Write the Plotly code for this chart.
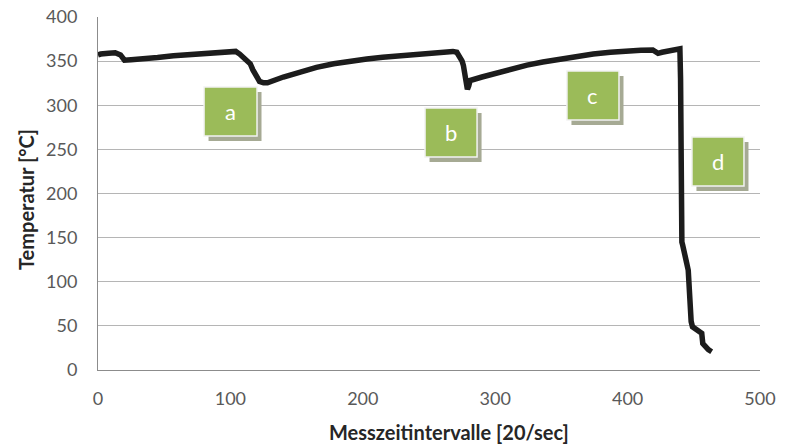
import plotly.graph_objects as go

interval = [0, 2, 8, 13, 17, 20, 25, 32, 45, 57, 70, 82, 95, 101, 104, 107, 111, 115, 117, 120, 122, 125, 128,
            140, 153, 165, 178, 190, 203, 215, 228, 240, 253, 263, 268, 271, 273, 275, 276, 277, 278, 279, 280, 281,
            290, 299, 311, 324, 336, 349, 362, 374, 387, 399, 410, 419, 421, 423, 426, 430, 434, 438, 439.5,
            440, 440, 440, 441, 441.6, 442.5, 443.4, 444.5, 445.8, 446.3, 446.6, 447, 448, 449, 451, 453.4,
            455, 456, 456.8, 459, 461, 463.5]
temperature = [357, 358, 359, 359.5, 357, 351, 351.5, 352, 354, 356, 357.5, 359.5, 361, 362, 361, 358, 352, 347, 340, 331, 327, 325.5, 325.5,
               332, 338, 343, 347, 350, 352.5, 354.5, 356.2, 357.5, 358.8, 360, 361, 360, 356, 350, 345, 338, 330, 318, 322, 328,
               332, 336, 341, 345.5, 349, 352.5, 355.5, 358, 360, 361.8, 362.3, 362.6, 360, 358.8, 360, 361.5, 362.5, 364.5, 364,
               330, 250, 157, 145, 141.6, 137, 132, 122, 113, 100, 83, 64, 55, 49, 47, 45,
               44, 41.5, 30, 26, 23, 20.7]

# Phase labels
labels = ["a", "b", "c", "d"]
label_x0 = [80.1, 247.0, 354.2, 448.6]
label_x1 = [120.1, 286.3, 393.5, 487.9]
label_y0 = [265.2, 241.4, 283.3, 208.5]
label_y1 = [320.7, 296.9, 338.8, 264.0]

x_ticks = [0, 100, 200, 300, 400, 500]
y_ticks = [0, 50, 100, 150, 200, 250, 300, 350, 400]

FONT = "Lato, 'Open Sans', sans-serif"
TICK_COLOR = "#595959"

fig = go.Figure()
fig.add_trace(go.Scatter(
    x=interval, y=temperature, mode="lines",
    line=dict(color="#1c1c1c", width=5.5, shape="linear"),
    hoverinfo="x+y", showlegend=False,
))

# scale: px per unit
px_x = 662 / 500
px_y = 353 / 400
dx = 4.5 / px_x
dy = 5 / px_y

shapes = []
annotations = []
for lab, x0, x1, y0, y1 in zip(labels, label_x0, label_x1, label_y0, label_y1):
    shapes.append(dict(type="rect", xref="x", yref="y", x0=x0 + dx, x1=x1 + dx, y0=y0 - dy, y1=y1 - dy,
                       fillcolor="#a6aa94", line=dict(width=0), layer="above"))
    shapes.append(dict(type="rect", xref="x", yref="y", x0=x0, x1=x1, y0=y0, y1=y1,
                       fillcolor="#9bbb59", line=dict(color="#f2f2f2", width=1.5), layer="above"))
    annotations.append(dict(x=(x0 + x1) / 2, y=(y0 + y1) / 2, xref="x", yref="y", text=lab,
                            showarrow=False, font=dict(family=FONT, size=22, color="white")))

annotations.append(dict(x=(449 - 98) / 662, y=-62 / 353, xref="paper", yref="paper",
                        text="<b>Messzeitintervalle [20/sec]</b>", showarrow=False,
                        xanchor="center", yanchor="middle",
                        font=dict(family=FONT, size=20, color="#262626")))
annotations.append(dict(x=-72 / 662, y=(370 - 200) / 353, xref="paper", yref="paper",
                        text="<b>Temperatur [°C]</b>", showarrow=False, textangle=-90,
                        xanchor="center", yanchor="middle",
                        font=dict(family=FONT, size=20, color="#262626")))

fig.update_layout(
    width=785, height=445,
    margin=dict(l=98, r=25, t=17, b=75, autoexpand=False),
    paper_bgcolor="white", plot_bgcolor="white",
    shapes=shapes, annotations=annotations,
    font=dict(family=FONT, size=18, color=TICK_COLOR),
    xaxis=dict(range=[0, 500], tickvals=x_ticks, showgrid=False, zeroline=False, automargin=False,
               showline=True, linecolor="#8c8c8c", linewidth=1, ticks="", ticklabeloverflow="allow",
               ticklabelstandoff=12, tickfont=dict(family=FONT, size=18, color=TICK_COLOR), fixedrange=True),
    yaxis=dict(range=[0, 400], tickvals=y_ticks, showgrid=True, gridcolor="#b5b5b5", gridwidth=1,
               zeroline=False, showline=True, linecolor="#8c8c8c", linewidth=1, ticks="", automargin=False,
               ticklabeloverflow="allow",
               ticklabelstandoff=16, tickfont=dict(family=FONT, size=18, color=TICK_COLOR), fixedrange=True),
)

# remove the default 8px body margin so the 785x445 figure fills the window exactly
fig.write_html("out.html", config={"displayModeBar": False},
               post_script="document.body.style.margin='0';document.body.style.overflow='hidden';")
